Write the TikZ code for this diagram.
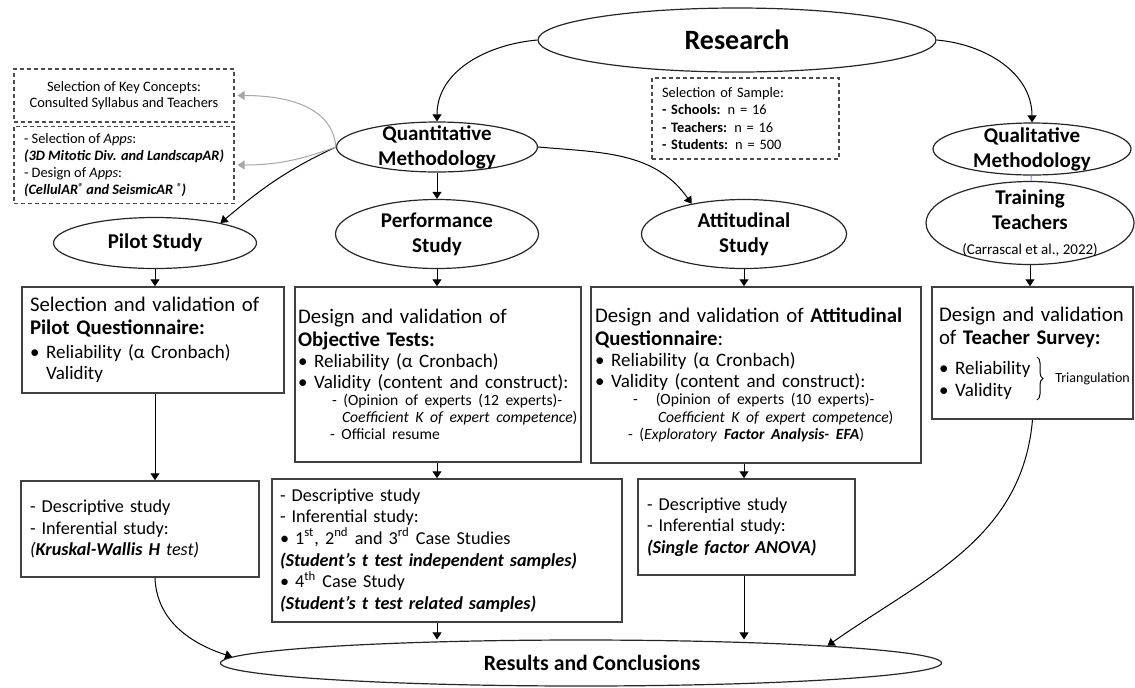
\documentclass[tikz,border=0pt]{standalone}
\usepackage{fontspec}
\setmainfont{Carlito}
\usepackage{tikz}
\usetikzlibrary{arrows.meta,shapes.geometric,calc,decorations.pathreplacing}
\setlength{\parindent}{0pt}
\hyphenpenalty=10000
\exhyphenpenalty=10000
\newcommand{\fsz}[2]{\fontsize{#1}{#2}\selectfont}
\newcommand{\regmark}{\raisebox{2.2pt}{\fsz{5}{5}®}}

\begin{document}
\begin{tikzpicture}[x=0.5pt, y=0.5pt,
	oval/.style={ellipse, draw=black!85, line width=.6pt, inner sep=-3pt, align=center, font=\bfseries\fsz{10.5}{12.5}},
	card/.style={draw=black!75, line width=.75pt, align=left, inner ysep=2pt},
	note/.style={draw=black!70, dash pattern=on 2pt off 1.5pt, line width=.6pt, align=left, font=\fsz{7.2}{8.6}},
	link/.style={-{Triangle[length=3.5pt,width=4.5pt]}, line width=.5pt},
	greylink/.style={link, black!35, shorten >=1.5pt}]
	\useasboundingbox (0,0) rectangle (1135,-687);

	\node [oval, minimum width=199pt, minimum height=32pt, font=\bfseries\fsz{14}{16}] (research) at (737,-40) {Research};
	\node [oval, minimum width=100.5pt, minimum height=25pt] (quant) at (437,-147) {Quantitative\\Methodology};
	\node [oval, minimum width=99pt, minimum height=26pt] (qual) at (1032,-149) {Qualitative\\Methodology};
	\node [oval, minimum width=104pt, minimum height=41.5pt] (training) at (1030,-223) {Training\\Teachers\\{\mdseries\fsz{7.5}{9}(Carrascal et al., 2022)}};
	\node [oval, minimum width=101.5pt, minimum height=25.5pt] (pilot) at (155,-243) {Pilot Study};
	\node [oval, minimum width=101.5pt, minimum height=34.5pt] (perf) at (437,-234) {Performance\\Study};
	\node [oval, minimum width=102.5pt, minimum height=34.5pt] (attit) at (744,-234) {Attitudinal\\Study};
	\node [oval, minimum width=360.5pt, minimum height=23pt, font=\bfseries\fsz{10.9}{13}] (results) at (581,-663) {\hspace*{11pt}Results and Conclusions};

	\node [note, align=center, minimum width=110pt, minimum height=26.5pt, font=\fsz{7.2}{8}] (keyc) at (124,-95.5) {Selection of Key Concepts:\\Consulted Syllabus and Teachers};
	\node [note, minimum width=110pt, minimum height=37pt] (apps) at (124,-165) {- Selection of \textit{Apps}:\\\textbf{\textit{(3D Mitotic Div. and LandscapAR)}}\\- Design of \textit{Apps}:\\\textbf{\textit{(CellulAR\regmark{} and SeismicAR \regmark)}}};
	\node [note, inner xsep=5pt, text width=83.5pt, minimum height=40.5pt] (sample) at (745.5,-118.5) {Selection of Sample:\\\textbf{- Schools:} n = 16\\\textbf{- Teachers:} n = 16\\\textbf{- Students:} n = 500};

	\node [card, inner xsep=4pt, text width=123pt, minimum height=53pt] (pilotq) at (153,-340) {%
		{\fsz{10.4}{11.5}Selection and validation of\\\textbf{Pilot Questionnaire:}\par}\vspace{1.5pt}
		{\fsz{9.5}{10.5}\textbullet\ Reliability (α Cronbach)\\\phantom{\textbullet\ }Validity\par}};
	\node [card, inner xsep=1.5pt, text width=140pt, minimum height=87.5pt] (perfq) at (438,-374.5) {%
		{\fsz{10.4}{11.5}Design and validation of\\\textbf{Objective Tests:}\par}
		{\fsz{9.5}{10.5}\textbullet\ Reliability (α Cronbach)\\\textbullet\ Validity (content and construct):\par}
		{\fsz{7.8}{8.6}\hspace*{17pt}- (Opinion of experts (12 experts)-\\\hspace*{22pt}\textit{Coefficient K of expert competence})\\\hspace*{16pt}- Official resume\par}};
	\node [card, inner xsep=2pt, text width=161pt, minimum height=88pt] (attq) at (756,-375) {%
		{\fsz{10.4}{11.5}Design and validation of \textbf{Attitudinal}\\\textbf{Questionnaire}:\par}
		{\fsz{9.5}{10.5}\textbullet\ Reliability (α Cronbach)\\\textbullet\ Validity (content and construct):\par}
		{\fsz{7.8}{8.6}\hspace*{19pt}-\hspace{9pt}(Opinion of experts (10 experts)-\\\hspace*{31.5pt}\textit{Coefficient K of expert competence})\\\hspace*{16.5pt}- (\textit{Exploratory} \textbf{\textit{Factor Analysis- EFA}})\par}};
	\node [card, inner xsep=3.5pt, text width=93.5pt, minimum height=66pt] (teachq) at (1032.5,-353) {%
		{\fsz{10.4}{11.5}Design and validation\\of \textbf{Teacher Survey:}\par}\vspace{4pt}
		{\fsz{9.5}{11}\textbullet\ Reliability\\\textbullet\ Validity\par}};
	\node [anchor=west, inner sep=0pt, font=\fsz{7}{8}] (triang) at (1055,-379) {Triangulation};
	\draw [decorate, decoration={brace, amplitude=3pt}, line width=.5pt] (1037,-357) -- (1037,-400);

	\node [card, inner xsep=4.5pt, text width=110pt, minimum height=48pt, font=\fsz{9.1}{10.8}] (pilotr) at (140,-529) {- Descriptive study\\- Inferential study:\\\textit{(\textbf{Kruskal-Wallis H} test)}};
	\node [card, inner xsep=4pt, text width=167pt, minimum height=71.5pt, font=\fsz{9.1}{10.8}] (perfr) at (447,-550.5) {- Descriptive study\\- Inferential study:\\\textbullet\ 1\textsuperscript{st}, 2\textsuperscript{nd} and 3\textsuperscript{rd} Case Studies\\\textbf{\textit{(Student’s t test independent samples)}}\\\textbullet\ 4\textsuperscript{th} Case Study\\\textbf{\textit{(Student’s t test related samples)}}};
	\node [card, inner xsep=4.5pt, text width=99.5pt, minimum height=48pt, font=\fsz{9.1}{10.8}] (attr) at (746.5,-527) {- Descriptive study\\- Inferential study:\\\textbf{\textit{(Single factor ANOVA)}}};

	\draw [link] (research.west) to[out=185,in=90] (quant.north);
	\draw [link] (research.east) to[out=-5,in=90] (qual.north);
	\draw [link] (quant) -- (perf);
	\draw [link] (quant.east) to[out=-5,in=125] (attit.150);
	\draw [link] (quant.west) to[out=205,in=40] (pilot.17);
	\draw [greylink] (quant.west) to[out=95,in=0] (keyc.east);
	\draw [greylink] (quant.west) to[out=200,in=0] (apps.east);
	\draw [blue!45, line width=.5pt] (qual) -- (training);
	\draw [link] (training) -- (training |- teachq.north);
	\draw [link] (pilot) -- (pilot |- pilotq.north);
	\draw [link] (perf) -- (perf |- perfq.north);
	\draw [link] (attit) -- (attit |- attq.north);
	\draw [link] (pilot |- pilotq.south) -- (pilot |- pilotr.north);
	\draw [link] (perf |- perfq.south) -- (perf |- perfr.north);
	\draw [link] (attit |- attq.south) -- (attit |- attr.north);
	\draw [link] (pilot |- pilotr.south) to[out=-88,in=162] (results.179);
	\draw [link] (perf |- perfr.south) -- (perf |- results.north);
	\draw [link] (attit |- attr.south) -- (attit |- results.north);
	\draw [link] (teachq.south) to[out=-95,in=35] (results.4);
\end{tikzpicture}
\end{document}
